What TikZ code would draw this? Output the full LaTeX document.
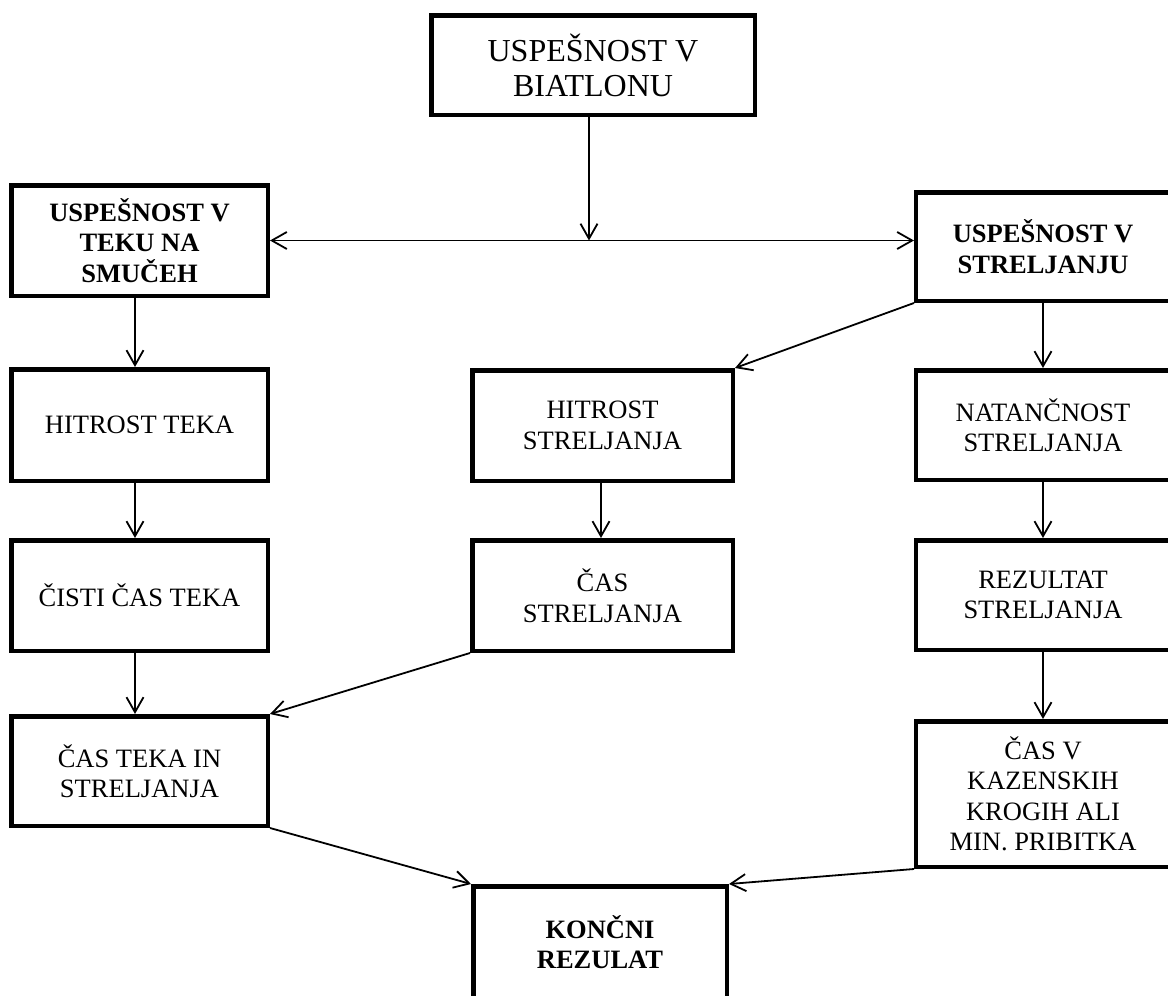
\documentclass[tikz,border=0pt]{standalone}
\usepackage{fontspec}
\setmainfont{Liberation Serif}
\usetikzlibrary{arrows.meta}
\begin{document}
\begin{tikzpicture}[x=1pt,y=-1pt,
 box/.style={draw,line width=4.5pt,align=center,inner sep=0pt,font=\fontsize{26.5}{30.5}\selectfont},
 bbox/.style={box,font=\fontsize{26.5}{30.5}\selectfont\bfseries},
 tbox/.style={box,font=\fontsize{32}{35}\selectfont},
 rbox/.style={draw,line width=4.5pt,inner sep=0pt,minimum width=268.75pt},
 rtext/.style={align=center,inner sep=0pt,xshift=-7.6pt,font=\fontsize{26.5}{30.5}\selectfont},
 rbtext/.style={rtext,font=\fontsize{26.5}{30.5}\selectfont\bfseries},
 conn/.style={line width=1.8pt,-{Straight Barb[length=15pt,width=17pt,line width=1.8pt]}},
 dconn/.style={line width=1.8pt,{Straight Barb[length=15pt,width=17pt,line width=1.8pt]}-{Straight Barb[length=15pt,width=17pt,line width=1.8pt]}},
]
\useasboundingbox (0,0) rectangle (1168,996);
\clip (0,0) rectangle (1168,996);
\fill[white] (0,0) rectangle (1168,996);

\node[tbox,minimum width=323.5pt,minimum height=99.5pt] (top) at (593,65) {USPEŠNOST V\\BIATLONU};
\node[bbox,minimum width=256.5pt,minimum height=110.5pt] (L1) at (139.5,240.5) {USPEŠNOST V\\TEKU NA\\SMUČEH};
\node[rbox,minimum height=108.5pt,label={[rbtext]center:USPEŠNOST V\\STRELJANJU}] (R1) at (1050.6,246.5) {};
\node[box,minimum width=256.5pt,minimum height=111.5pt] (L2) at (139.5,425) {HITROST TEKA};
\node[box,minimum width=260.5pt,minimum height=110.5pt] (M2) at (602.5,425.5) {HITROST\\STRELJANJA};
\node[rbox,minimum height=109.5pt,label={[rtext]center:NATANČNOST\\STRELJANJA}] (R2) at (1050.6,425) {};
\node[box,minimum width=256.5pt,minimum height=110.5pt] (L3) at (139.5,595.5) {ČISTI ČAS TEKA};
\node[box,minimum width=260.5pt,minimum height=110.5pt] (M3) at (602.5,595.5) {ČAS\\STRELJANJA};
\node[rbox,minimum height=109.5pt,label={[rtext]center:REZULTAT\\STRELJANJA}] (R3) at (1050.6,595) {};
\node[box,minimum width=256.5pt,minimum height=109.5pt] (L4) at (139.5,771) {ČAS TEKA IN\\STRELJANJA};
\node[rbox,minimum height=145.5pt,label={[rtext]center:ČAS V\\KAZENSKIH\\KROGIH ALI\\MIN. PRIBITKA}] (R4) at (1050.6,794) {};
\node[bbox,minimum width=253.5pt,minimum height=111.5pt] (B) at (600,942) {KONČNI\\REZULAT};

\coordinate (j) at ([xshift=-4pt]top.south |- L1.east);
\draw[conn] ([xshift=-4pt]top.south) -- (j);
\draw[dconn] (L1.east) -- (R1.west |- L1.east);

\draw[conn] ([xshift=-4.5pt]L1.south) -- ([xshift=-4.5pt]L2.north);
\draw[conn] ([xshift=-4.5pt]L2.south) -- ([xshift=-4.5pt]L3.north);
\draw[conn] ([xshift=-4.5pt]L3.south) -- ([xshift=-4.5pt]L4.north);

\draw[conn] ([xshift=-1.5pt]M2.south) -- ([xshift=-1.5pt]M3.north);

\draw[conn] ([xshift=-7.6pt]R1.south) -- ([xshift=-7.6pt]R2.north);
\draw[conn] ([xshift=-7.6pt]R2.south) -- ([xshift=-7.6pt]R3.north);
\draw[conn] ([xshift=-7.6pt]R3.south) -- ([xshift=-7.6pt]R4.north);

\draw[conn] (R1.south west) -- (M2.north east);
\draw[conn] (M3.south west) -- (L4.north east);
\draw[conn] (L4.south east) -- (B.north west);
\draw[conn] (R4.south west) -- (B.north east);
\end{tikzpicture}
\end{document}
